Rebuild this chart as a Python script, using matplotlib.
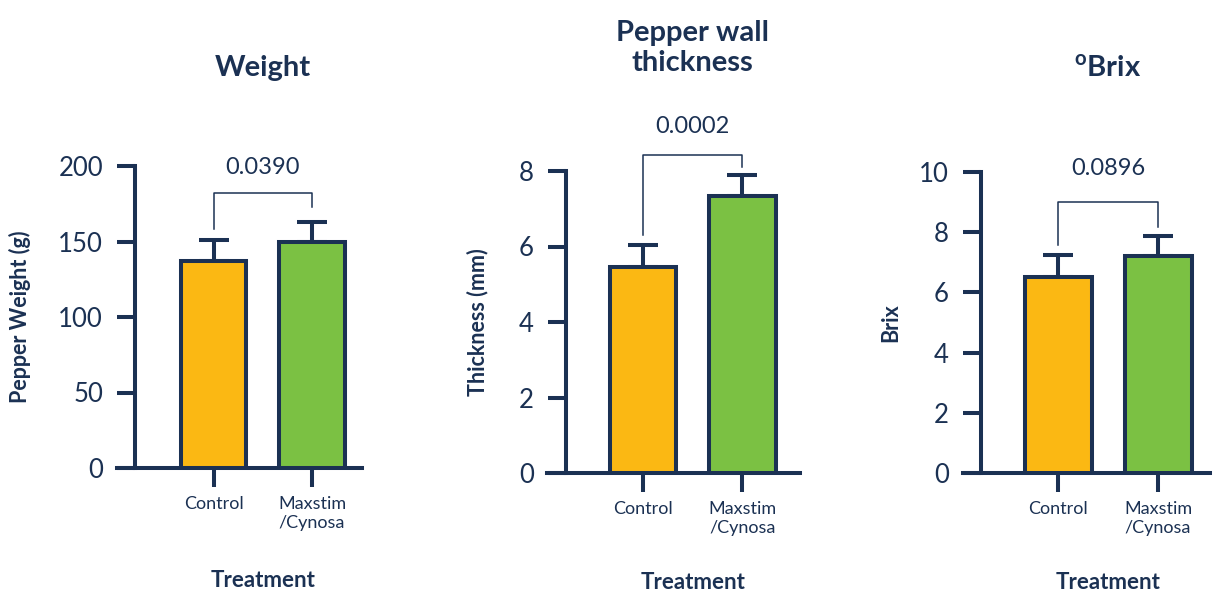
import matplotlib
matplotlib.use("Agg")
import matplotlib.pyplot as plt
import matplotlib.transforms as mtransforms

plt.rcParams['font.family'] = ['Lato', 'DejaVu Sans']
plt.rcParams['mathtext.fontset'] = 'custom'
plt.rcParams['mathtext.rm'] = 'Lato'
plt.rcParams['mathtext.bf'] = 'Lato:bold'

# ---- data ----
groups = ["Control", "Maxstim\n/Cynosa"]
titles = ["Weight", "Pepper wall\nthickness", r"$^{\mathbf{o}}$Brix"]
ylabels = ["Pepper Weight (g)", "Thickness (mm)", "Brix"]
xlabel = "Treatment"

weight_mean = [137, 150]
weight_err = [14, 13]
thick_mean = [5.47, 7.35]
thick_err = [0.56, 0.55]
brix_mean = [6.52, 7.2]
brix_err = [0.73, 0.68]

p_values = ["0.0390", "0.0002", "0.0896"]
bracket_top = [182, 8.42, 9.0]
bracket_left = [158, 6.3, 7.57]
bracket_right = [173, 8.1, 8.17]
p_label_y = [199, 9.17, 10.13]

y_max = [200, 8, 10]
y_ticks = [[0, 50, 100, 150, 200], [0, 2, 4, 6, 8], [0, 2, 4, 6, 8, 10]]

means = [weight_mean, thick_mean, brix_mean]
errs = [weight_err, thick_err, brix_err]

# ---- style ----
NAVY = "#1b3153"
COLORS = ["#fbb813", "#7bc143"]
W, H = 1218, 595
fig = plt.figure(figsize=(W / 100, H / 100), dpi=100)

# axes rects in pixels: left, right, bottom, top
rects = [(117, 362, 468, 166), (547, 800, 473, 171), (963, 1210, 473, 172)]
xlims = [(-0.98, 1.508), (-0.965, 1.578), (-0.95, 1.52)]
spine_frac = [0.0735, 0.075, 0.073]
ylabel_x = [-0.35, -0.232, -0.25]
title_y = [1.325, 1.407, 1.345]
xlabel_y = [-0.371, -0.364, -0.365]

LW = 2.9
for i in range(3):
    l, r, b, t = rects[i]
    ax = fig.add_axes([l / W, 1 - b / H, (r - l) / W, (b - t) / H])
    x = [0, 1]
    ax.bar(x, means[i], width=0.67, color=COLORS, edgecolor=NAVY,
           linewidth=LW, zorder=3)
    ax.errorbar(x, means[i], yerr=[[0, 0], errs[i]], fmt="none",
                ecolor=NAVY, elinewidth=LW, capsize=11, capthick=LW,
                zorder=2)
    ax.set_xlim(*xlims[i])
    ax.set_ylim(0, y_max[i])
    ax.set_yticks(y_ticks[i])
    ax.set_xticks(x)
    ax.set_xticklabels(groups, fontsize=13, color=NAVY, linespacing=1.25)
    ax.tick_params(axis="y", length=13, width=LW, color=NAVY,
                   labelsize=18.5, labelcolor=NAVY, pad=10)
    ax.tick_params(axis="x", length=14, width=LW, color=NAVY, pad=6)
    for s in ["top", "right"]:
        ax.spines[s].set_visible(False)
    ax.spines["left"].set_position(("axes", spine_frac[i]))
    ax.spines["left"].set_linewidth(LW)
    ax.spines["bottom"].set_linewidth(LW)
    ax.spines["left"].set_color(NAVY)
    ax.spines["bottom"].set_color(NAVY)
    ax.spines["left"].set_capstyle("projecting")

    ax.set_ylabel(ylabels[i], fontsize=15.5, fontweight="bold", color=NAVY)
    ax.yaxis.set_label_coords(ylabel_x[i], 0.5)

    trans = mtransforms.blended_transform_factory(ax.transData, ax.transAxes)
    ax.text(0.5, title_y[i], titles[i], transform=trans, ha="center",
            va="center", fontsize=21, fontweight="bold", color=NAVY,
            linespacing=1.2)
    ax.text(0.5, xlabel_y[i], xlabel, transform=trans, ha="center",
            va="center", fontsize=16, fontweight="bold", color=NAVY)

    # significance bracket
    ax.plot([0, 0, 1, 1],
            [bracket_left[i], bracket_top[i], bracket_top[i], bracket_right[i]],
            color=NAVY, lw=1.1, clip_on=False, zorder=4)
    ax.text(0.5, p_label_y[i], p_values[i], ha="center", va="center",
            fontsize=17, color=NAVY, clip_on=False)

fig.savefig("out.png", dpi=100)
